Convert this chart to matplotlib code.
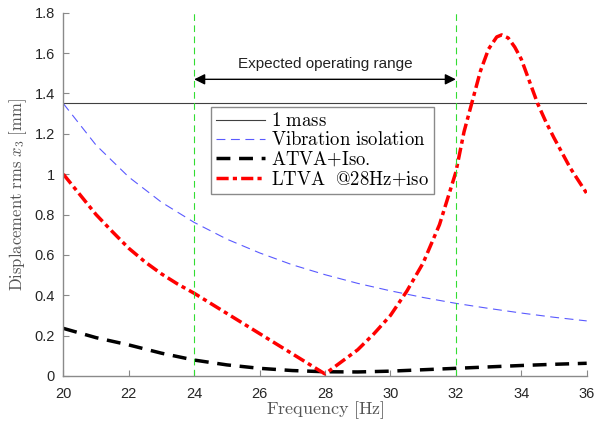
import matplotlib
matplotlib.use("Agg")
import matplotlib.pyplot as plt

plt.rcParams['mathtext.fontset'] = 'cm'
plt.rcParams['font.family'] = ['Liberation Sans', 'DejaVu Sans']

# ---- data ----
freq_iso = [20, 21, 22, 23, 24, 25, 26, 27, 28, 29, 30, 31, 32, 33, 34, 35, 36]
iso_vals = [1.35, 1.144, 0.986, 0.861, 0.761, 0.678, 0.610, 0.551, 0.502,
            0.459, 0.422, 0.389, 0.360, 0.335, 0.312, 0.291, 0.273]

freq_atva = [20, 21, 22, 23, 24, 25, 26, 27, 28, 29, 30, 31, 32, 33, 34, 35, 36]
atva_vals = [0.236, 0.19, 0.154, 0.113, 0.079, 0.055, 0.038, 0.027, 0.021,
             0.020, 0.024, 0.031, 0.038, 0.045, 0.052, 0.058, 0.063]

freq_ltva = [20, 20.5, 21, 21.5, 22, 22.5, 23, 23.5, 24, 24.5, 25, 25.5, 26,
             26.5, 27, 27.5, 28, 28.5, 29, 29.5, 30, 30.5, 31, 31.5, 32, 32.25,
             32.5, 32.75, 33, 33.25, 33.4, 33.6, 33.8, 34, 34.25, 34.5, 34.75,
             35, 35.5, 36]
ltva_vals = [1.0, 0.90, 0.80, 0.715, 0.633, 0.565, 0.506, 0.455, 0.41, 0.36,
             0.31, 0.26, 0.21, 0.16, 0.11, 0.06, 0.01, 0.07, 0.13, 0.21, 0.30,
             0.42, 0.56, 0.75, 1.01, 1.21, 1.36, 1.51, 1.62, 1.68, 1.69, 1.675,
             1.63, 1.57, 1.46, 1.35, 1.26, 1.18, 1.03, 0.905]

one_mass = 1.355
range_lo, range_hi = 24, 32
arrow_y = 1.47
xticks = [20, 22, 24, 26, 28, 30, 32, 34, 36]
yticks = [0, 0.2, 0.4, 0.6, 0.8, 1.0, 1.2, 1.4, 1.6, 1.8]
ytick_labels = ['0', '0.2', '0.4', '0.6', '0.8', '1', '1.2', '1.4', '1.6', '1.8']

# ---- figure ----
fig = plt.figure(figsize=(5.94, 4.21), dpi=100)
ax = fig.add_axes([0.1066, 0.1069, 0.8811, 0.8629])

ax.axhline(one_mass, color='#404040', lw=0.8, label=r'$\mathrm{1\ mass}$')
ax.plot(freq_iso, iso_vals, color='#5a5aff', lw=0.8, dashes=(8, 5),
        label=r'$\mathrm{Vibration\ isolation}$')
ax.plot(freq_atva, atva_vals, color='black', lw=2.5, dashes=(4, 2.5),
        label=r'$\mathrm{ATVA{+}Iso.}$')
ax.plot(freq_ltva, ltva_vals, color='red', lw=2.5, dashes=(3.5, 1.2, 1.2, 1.2),
        label=r'$\mathrm{LTVA\ \ @28Hz{+}iso}$')

for xv in (range_lo, range_hi):
    ax.axvline(xv, color='#33dd33', lw=0.8, dashes=(6, 4))

ax.annotate('', xy=(range_lo, arrow_y), xytext=(range_hi, arrow_y),
            arrowprops=dict(arrowstyle='<|-|>', color='black', lw=1.0,
                            mutation_scale=16, shrinkA=0, shrinkB=0))
ax.text((range_lo + range_hi) / 2, 1.545, 'Expected operating range',
        ha='center', va='center', fontsize=11, color='#222222')

ax.set_xlim(20, 36)
ax.set_ylim(0, 1.8)
ax.set_xticks(xticks)
ax.set_yticks(yticks)
ax.set_yticklabels(ytick_labels)

for s in ('top', 'right'):
    ax.spines[s].set_visible(False)
for s in ('left', 'bottom'):
    ax.spines[s].set_color('#8a8a8a')
    ax.spines[s].set_linewidth(1.0)
ax.tick_params(direction='in', length=4, width=0.8, color='#8a8a8a',
               labelsize=10.5, labelcolor='#262626')
ax.tick_params(axis='x', pad=8)
ax.tick_params(axis='y', pad=6)

ax.set_xlabel(r'$\mathrm{Frequency\ [Hz]}$', fontsize=13, color='#555555', labelpad=-1)
ax.set_ylabel(r'$\mathrm{Displacement\ rms}\ x_3\ \mathrm{[mm]}$', fontsize=12,
              color='#555555', labelpad=4)

leg = ax.legend(loc='upper left', bbox_to_anchor=(0.2816, 0.7413),
                borderaxespad=0, fontsize=13.5, handlelength=2.6,
                labelspacing=0.05, handletextpad=0.3, borderpad=0.3,
                fancybox=False, framealpha=1, edgecolor='#8a8a8a')
leg.get_frame().set_linewidth(1.0)

fig.savefig('out.png', dpi=100)
